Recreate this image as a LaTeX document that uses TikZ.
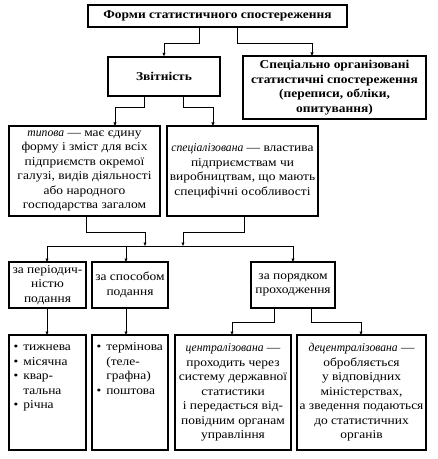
\documentclass[tikz,border=0pt]{standalone}
\usepackage{fontspec}
\setmainfont{Liberation Serif}[FakeStretch=1.12,ItalicFeatures={FakeStretch=0.97}]
\usetikzlibrary{arrows.meta}
\begin{document}
\begin{tikzpicture}[x=1bp,y=-1bp,
  box/.style={draw,line width=1.2bp,inner sep=1bp,align=center,font=\fontsize{12bp}{14.5bp}\selectfont},
  bbox/.style={box,font=\fontsize{12bp}{14.5bp}\selectfont\bfseries},
  conn/.style={line width=0.8bp,-{Triangle[length=3.5bp,width=2.8bp]}},
  txt/.style={inner sep=0pt,anchor=north west,align=left,font=\fontsize{12bp}{14.5bp}\selectfont}]
\useasboundingbox (0,0) rectangle (438,459);
% boxes
\node[bbox,minimum width=259bp,minimum height=22bp] (top) at (217.5,16) {Форми статистичного спостереження};
\node[bbox,minimum width=112bp,minimum height=39bp] (zv) at (164,76.5) {Звітність};
\node[bbox,minimum width=183bp,minimum height=63bp] (sp) at (334.5,87.5) {Спеціально організовані\\статистичні спостереження\\(переписи, обліки,\\опитування)};
\node[box,minimum width=151bp,minimum height=90bp] (typ) at (84.5,171) {\textit{типова} — має єдину\\форму і зміст для всіх\\підприємств окремої\\галузі, видів діяльності\\або народного\\господарства загалом};
\node[box,minimum width=151bp,minimum height=90bp] (spz) at (242.5,171) {\textit{спеціалізована} — властива\\підприємствам чи\\виробництвам, що мають\\специфічні особливості};
\node[box,minimum width=77bp,minimum height=46bp] (p1) at (47.5,285) {за періодич-\\ністю\\подання};
\node[box,minimum width=76bp,minimum height=46bp] (p2) at (130,285) {за способом\\подання};
\node[box,minimum width=84bp,minimum height=46bp] (p3) at (293,285) {за порядком\\проходження};
\node[box,minimum width=77bp,minimum height=115bp] (b1) at (47.5,392.5) {};
\node[box,minimum width=76bp,minimum height=115bp] (b2) at (130,392.5) {};
\node[box,minimum width=116bp,minimum height=115bp] (b3) at (233,392.5) {\textit{централізована} —\\проходить через\\систему державної\\статистики\\і передається від-\\повідним органам\\управління};
\node[box,minimum width=129bp,minimum height=115bp] (b4) at (361.5,392.5) {\textit{децентралізована} —\\обробляється\\у відповідних\\міністерствах,\\а зведення подаються\\до статистичних\\органів};
\node[txt] (b1t) at ([xshift=5bp,yshift=-6bp]b1.north west) {\begin{tabular}{@{}l@{\hspace{5bp}}l@{}}•&тижнева\\•&місячна\\•&квар-\\&тальна\\•&річна\end{tabular}};
\node[txt] (b2t) at ([xshift=5bp,yshift=-6bp]b2.north west) {\begin{tabular}{@{}l@{\hspace{5bp}}l@{}}•&термінова\\&(теле-\\&графна)\\•&поштова\end{tabular}};
% connectors
\draw[conn] (199,27) |- (164,43) -- (zv.north);
\draw[conn] (237,27) |- (312,43) -- (312,56);
\draw[conn] (144,96) |- (115,107) -- (115,126);
\draw[conn] (183,96) |- (213,107) -- (213,126);
\draw[conn] (86,216) |- (145,232) -- (145,246);
\draw[conn] (244,216) |- (183,232) -- (183,246);
\draw[line width=0.8bp] (47,246) -- (293,246);
\draw[conn] (47,246) -- (47,262);
\draw[conn] (126,246) -- (126,262);
\draw[conn] (293,246) -- (293,262);
\draw[conn] (47,308) -- (47,335);
\draw[conn] (126,308) -- (126,335);
\draw[conn] (274,308) |- (232,322) -- (232,335);
\draw[conn] (311,308) |- (361,322) -- (361,335);
\end{tikzpicture}
\end{document}
